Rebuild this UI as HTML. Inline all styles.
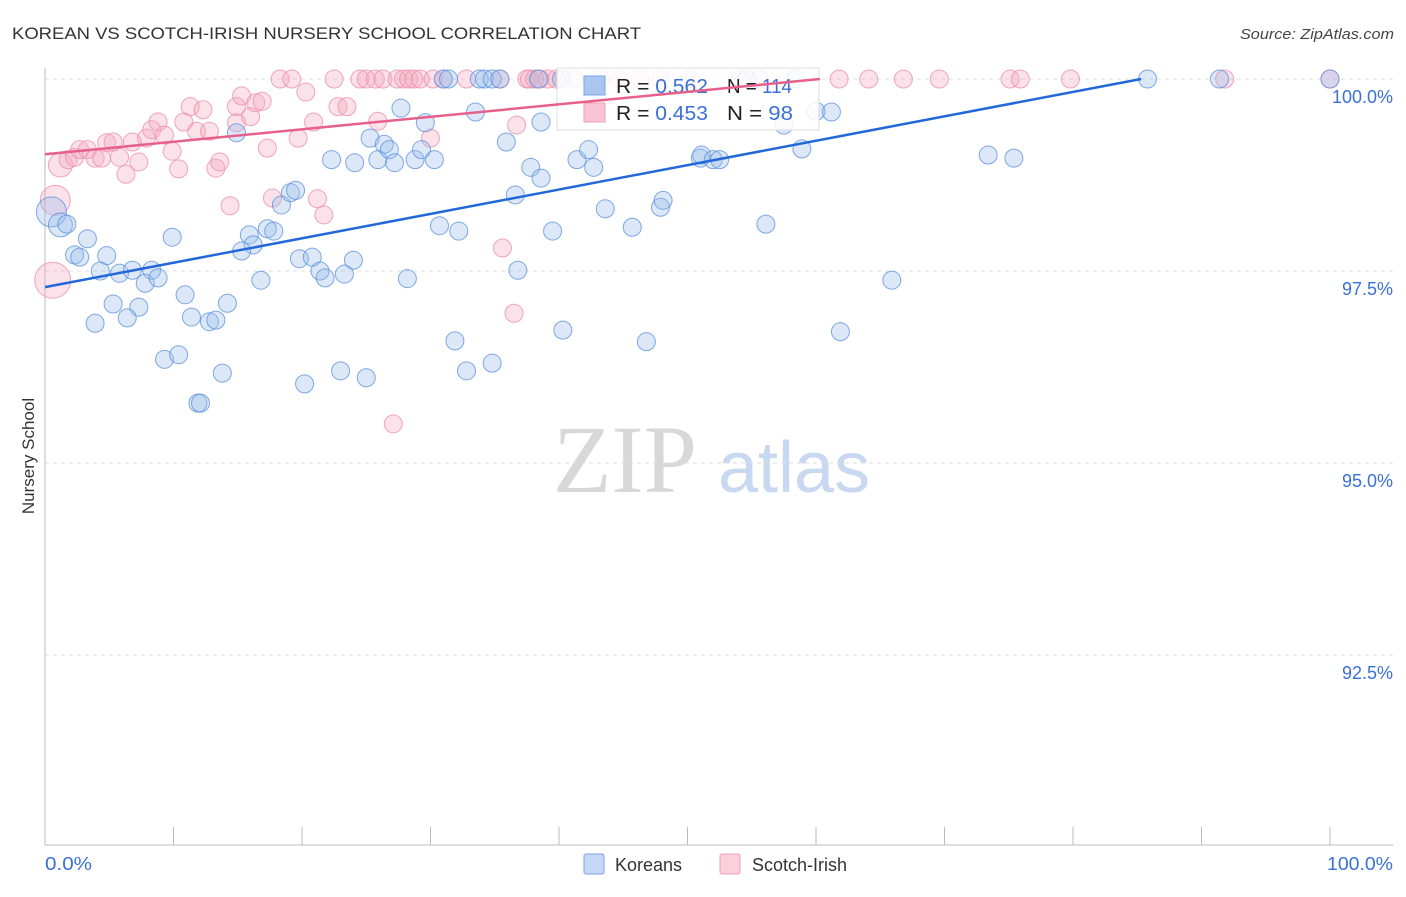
<!DOCTYPE html>
<html><head><meta charset="utf-8"><style>
body{margin:0;background:#fff;width:1406px;height:892px;overflow:hidden;font-family:"Liberation Sans",sans-serif}
</style></head><body>
<svg id="chart" width="1406" height="892" xmlns="http://www.w3.org/2000/svg">
<text x="12" y="39" font-size="17" fill="#333" textLength="629" lengthAdjust="spacingAndGlyphs" font-family="Liberation Sans, sans-serif">KOREAN VS SCOTCH-IRISH NURSERY SCHOOL CORRELATION CHART</text>
<text x="1240" y="39" font-size="15" fill="#444" font-style="italic" textLength="154" lengthAdjust="spacingAndGlyphs">Source: ZipAtlas.com</text>
<g>
<text x="553" y="492" font-size="96" fill="#d8d8d8" font-family="Liberation Serif, serif">ZIP</text>
<text x="718" y="492" font-size="72" fill="#c8d8f0">atlas</text>
</g>
<g id="grid"></g>
<g id="axes"></g>
<g id="trend"></g>
<g id="points"></g>
<text transform="translate(34,456) rotate(-90)" font-size="17" fill="#333" text-anchor="middle">Nursery School</text>
<text x="45" y="870" font-size="18" fill="#3a70d8" textLength="47" lengthAdjust="spacingAndGlyphs">0.0%</text>
<text x="1327" y="870" font-size="18" fill="#3a70d8" textLength="66" lengthAdjust="spacingAndGlyphs">100.0%</text>
<g>
<rect x="557" y="68" width="262" height="62" fill="#fff" fill-opacity="0.85" stroke="#ddd"/>
<rect x="584" y="76" width="21" height="19" fill="#aac6f0" stroke="#7aa4e4"/>
<rect x="584" y="103" width="21" height="19" fill="#f8c4d2" stroke="#f0a0b8"/>
<text x="616" y="93" font-size="20" fill="#222" textLength="92" lengthAdjust="spacingAndGlyphs">R = <tspan fill="#3a70d8">0.562</tspan></text>
<text x="727" y="93" font-size="20" fill="#222" textLength="65" lengthAdjust="spacingAndGlyphs">N = <tspan fill="#3a70d8">114</tspan></text>
<text x="616" y="120" font-size="20" fill="#222" textLength="92" lengthAdjust="spacingAndGlyphs">R = <tspan fill="#3a70d8">0.453</tspan></text>
<text x="727" y="120" font-size="20" fill="#222" textLength="66" lengthAdjust="spacingAndGlyphs">N = <tspan fill="#3a70d8"> 98</tspan></text>
</g>
<g>
<rect x="584" y="854" width="20" height="20" rx="2" fill="#c4d8f6" stroke="#7aa4e4"/>
<text x="615" y="871" font-size="18" fill="#333">Koreans</text>
<rect x="720" y="854" width="20" height="20" rx="2" fill="#fad0dc" stroke="#f0a0b8"/>
<text x="752" y="871" font-size="18" fill="#333">Scotch-Irish</text>
</g>
</svg>
<script>
const yTicks=[100,97.5,95,92.5];
const yTickLabels=["100.0%","97.5%","95.0%","92.5%"];
const xTicks=[0,10,20,30,40,50,60,70,80,90,100];
const blueX=[0.5,1.2,1.7,3.3,2.3,2.7,4.8,4.3,5.8,6.8,8.3,7.8,8.8,9.9,5.3,7.3,6.4,3.9,10.9,11.4,14.2,12.8,13.3,9.3,10.4,13.8,11.9,12.1,14.9,15.9,16.2,15.3,17.3,17.8,18.4,19.1,19.5,16.8,19.8,20.8,21.4,21.8,24.0,23.3,20.2,23.0,25.0,22.3,24.1,25.3,25.9,26.4,26.8,27.2,27.7,28.8,29.3,30.3,29.6,28.2,30.7,32.2,31.9,32.8,34.8,33.5,35.9,36.6,36.8,37.8,38.6,38.6,39.5,40.3,41.4,42.3,42.7,43.6,45.7,47.9,48.1,46.8,51.0,51.1,52.0,52.5,56.1,57.5,58.9,60.0,61.2,61.9,65.9,73.4,75.4,85.8,91.4,100,31.0,31.4,33.8,34.2,34.8,35.4,38.4,40.2,54.6,58.4];
const blueY=[98.27,98.10,98.11,97.92,97.71,97.68,97.70,97.50,97.47,97.51,97.51,97.34,97.41,97.94,97.07,97.03,96.89,96.82,97.19,96.90,97.08,96.84,96.86,96.35,96.41,96.17,95.78,95.78,99.30,97.97,97.84,97.76,98.05,98.02,98.36,98.52,98.55,97.38,97.66,97.68,97.50,97.41,97.64,97.46,96.03,96.20,96.11,98.95,98.91,99.23,98.95,99.15,99.08,98.91,99.62,98.95,99.08,98.95,99.43,97.40,98.09,98.02,96.59,96.20,96.30,99.57,99.18,98.49,97.51,98.85,98.71,99.44,98.02,96.73,98.95,99.08,98.85,98.31,98.07,98.33,98.42,96.58,98.97,99.01,98.95,98.95,98.11,99.40,99.09,99.58,99.57,96.71,97.38,99.01,98.97,100,100,100,100,100,100,100,100,100,100,100,100,100];
const blueW=[3,2,1,1,1,1,1,1,1,1,1,1,1,1,1,1,1,1,1,1,1,1,1,1,1,1,1,1,1,1,1,1,1,1,1,1,1,1,1,1,1,1,1,1,1,1,1,1,1,1,1,1,1,1,1,1,1,1,1,1,1,1,1,1,1,1,1,1,1,1,1,1,1,1,1,1,1,1,1,1,1,1,1,1,1,1,1,1,1,1,1,1,1,1,1,1,1,1,1,1,1,1,1,1,1,1,1,1];
const pinkX=[0.8,0.6,1.2,1.8,2.3,2.7,3.3,3.9,4.4,4.8,5.3,5.8,6.3,6.8,7.3,7.9,8.3,8.8,9.3,9.9,10.4,10.8,11.3,11.8,12.3,12.8,13.3,13.6,14.4,14.9,15.3,14.9,16.0,16.4,16.9,17.3,17.7,18.3,19.2,19.7,20.3,20.9,21.2,21.7,22.5,22.8,23.5,24.5,25.0,25.7,25.9,26.3,27.4,27.9,28.3,28.7,29.2,30.0,30.2,31.0,32.8,35.6,36.5,36.7,27.1,35.4,37.5,37.7,38.1,38.5,39.1,39.8,41.2,43.2,44.7,46.3,47.9,50.2,54.1,55.6,61.8,64.1,66.8,69.6,75.1,75.9,79.8,91.8,100];
const pinkY=[98.42,97.38,98.88,98.95,98.98,99.08,99.08,98.97,98.97,99.17,99.18,98.98,98.76,99.18,98.92,99.23,99.34,99.44,99.27,99.06,98.83,99.44,99.64,99.32,99.60,99.32,98.84,98.92,98.35,99.64,99.78,99.43,99.51,99.69,99.71,99.10,98.45,100,100,99.23,99.83,99.44,98.44,98.23,100,99.64,99.64,100,100,100,99.45,100,100,100,100,100,100,99.23,100,100,100,97.80,96.95,99.40,95.51,100,100,100,100,100,100,100,100,100,100,100,100,100,100,100,100,100,100,100,100,100,100,100,100];
const pinkW=[3,4,2,1,1,1,1,1,1,1,1,1,1,1,1,1,1,1,1,1,1,1,1,1,1,1,1,1,1,1,1,1,1,1,1,1,1,1,1,1,1,1,1,1,1,1,1,1,1,1,1,1,1,1,1,1,1,1,1,1,1,1,1,1,1,1,1,1,1,1,1,1,1,1,1,1,1,1,1,1,1,1,1,1,1,1,1,1,1];
const blueTrendX=[0,85.3];
const blueTrendY=[97.29,100];
const pinkTrendX=[0,60.3];
const pinkTrendY=[99.02,100];

const NS="http://www.w3.org/2000/svg";
const X0=45,X1=1330,Y100=79,PX_PER_PCT=76.8;
function sx(v){return X0+(X1-X0)*v/100;}
function sy(v){return Y100+(100-v)*PX_PER_PCT;}
function mk(tag,attrs,parent){const e=document.createElementNS(NS,tag);for(const k in attrs)e.setAttribute(k,attrs[k]);parent.appendChild(e);return e;}
const grid=document.getElementById('grid'),axes=document.getElementById('axes'),trend=document.getElementById('trend'),pts=document.getElementById('points');
yTicks.forEach((t,i)=>{
  const l=mk('line',{x1:X0,x2:1393,y1:sy(t),y2:sy(t),stroke:'#ddd','stroke-dasharray':'4,4'},grid);
  
  
  const tx=mk('text',{x:1393,y:sy(t)+24,'font-size':18,fill:'#3a70d8','text-anchor':'end'},grid);
  tx.textContent=yTickLabels[i];
  
  
});
const ya=mk('line',{x1:X0,x2:X0,y1:68,y2:845,stroke:'#bbb'},axes);


const xa=mk('line',{x1:X0,x2:1393,y1:845,y2:845,stroke:'#bbb'},axes);


xTicks.forEach(t=>{
  const l=mk('line',{x1:sx(t),x2:sx(t),y1:827,y2:845,stroke:'#bbb'},axes);
  
  
});
function drawPts(xs,ys,ws,fill,stroke,name){
  xs.forEach((x,i)=>{
    const r=9+(ws[i]-1)*3;
    const c=mk('circle',{cx:sx(x),cy:sy(ys[i]),r:r,fill:fill,'fill-opacity':0.35,stroke:stroke,'stroke-opacity':0.8,'stroke-width':1},pts);
    
    
  });
}
drawPts(pinkX,pinkY,pinkW,'#f4a8bf','#ee90ad','scotch-irish-point');
drawPts(blueX,blueY,blueW,'#9bbcec','#5f93de','korean-point');
const bl=mk('line',{x1:sx(blueTrendX[0]),y1:sy(blueTrendY[0]),x2:sx(blueTrendX[1]),y2:sy(blueTrendY[1]),stroke:'#2268d8','stroke-width':2.5},trend);


const pl=mk('line',{x1:sx(pinkTrendX[0]),y1:sy(pinkTrendY[0]),x2:sx(pinkTrendX[1]),y2:sy(pinkTrendY[1]),stroke:'#e6608a','stroke-width':2.5},trend);


document.getElementById('chart').appendChild(trend);
</script>
</body></html>
